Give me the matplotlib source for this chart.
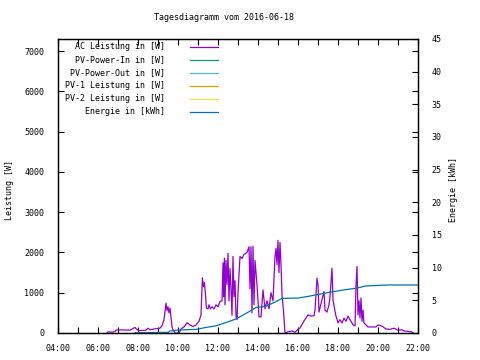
import matplotlib
matplotlib.use("Agg")
import matplotlib.pyplot as plt
import numpy as np

# AC Leistung [W] over time of day (hours)
ac_t = [6.45, 6.5, 6.7, 6.85, 6.9, 7.3, 7.6, 7.75, 7.85, 7.95, 8.1, 8.4, 8.5, 8.6,
        8.8, 9.0, 9.1, 9.2, 9.3, 9.4, 9.45, 9.5, 9.55, 9.6, 9.65, 9.7, 9.75, 9.85,
        10.05, 10.15, 10.3, 10.45, 10.6, 10.75, 10.9, 11.05, 11.15, 11.22, 11.27,
        11.32, 11.37, 11.42, 11.5, 11.55, 11.62, 11.7, 11.8, 11.9, 12.0, 12.1, 12.2,
        12.25, 12.28, 12.32, 12.35, 12.4, 12.45, 12.5, 12.55, 12.6, 12.65, 12.7,
        12.75, 12.8, 12.85, 12.9, 12.95, 13.0, 13.1, 13.2, 13.3, 13.45, 13.55, 13.6,
        13.65, 13.7, 13.75, 13.8, 13.85, 13.95, 14.05, 14.15, 14.25, 14.35, 14.45,
        14.55, 14.65, 14.75, 14.85, 14.9, 14.95, 15.0, 15.05, 15.1, 15.15, 15.2,
        15.28, 15.35, 15.5, 15.7, 15.85, 16.0, 16.1, 16.3, 16.5, 16.65, 16.8, 16.85,
        16.95, 17.0, 17.05, 17.1, 17.2, 17.3, 17.35, 17.45, 17.55, 17.6, 17.7, 17.75,
        17.85, 17.9, 18.0, 18.1, 18.2, 18.3, 18.4, 18.5, 18.6, 18.7, 18.75, 18.85,
        18.9, 18.95, 19.0, 19.05, 19.1, 19.15, 19.2, 19.25, 19.3, 19.4, 19.5, 19.9,
        20.0, 20.2, 20.4, 20.6, 20.8, 21.0, 21.2, 21.3, 21.5, 21.7, 21.75]
ac_w = [0, 30, 20, 40, 75, 75, 70, 110, 140, 80, 60, 70, 120, 80,
        100, 110, 120, 180, 330, 740, 560, 650, 500, 620, 400, 150, 80, 0,
        0, 100, 150, 255, 200, 160, 200, 290, 450, 1370, 1150,
        1250, 990, 620, 600, 700, 600, 650, 600, 700, 650, 780, 800,
        1740, 900, 1860, 700, 1800, 1200, 1980, 800, 1600, 1100, 440,
        1900, 900, 1300, 400, 340, 1000, 1900, 1850, 1950, 2000, 2140, 1100,
        2140, 500, 2150, 700, 1800, 1200, 400, 400, 1070, 600, 800,
        600, 1000, 800, 1900, 2100, 1700, 2300, 1500, 2250, 1700, 950,
        520, 0, 30, 50, 20, 90, 125, 300, 450, 420, 430, 570,
        1360, 1200, 520, 620, 820, 1030, 570, 520, 700, 900, 1610, 820,
        540, 420, 250, 330, 250, 370, 290, 420, 330, 250, 200, 180,
        1180, 1650, 450, 800, 370, 870, 290, 570, 250, 200, 150, 150,
        200, 170, 100, 90, 120, 70, 80, 50, 40, 25, 0]

# Energie [kWh]
en_t = [7.85, 9.5, 9.6, 10.0, 10.9, 11.4, 11.9, 12.4, 12.9, 13.4, 13.9, 14.4,
        14.9, 15.2, 16.0, 16.5, 17.0, 17.7, 18.3, 18.9, 19.4, 20.5, 22.0]
en_kwh = [0.05, 0.1, 0.3, 0.45, 0.55, 0.85, 1.1, 1.6, 2.15, 3.0, 3.9, 4.1,
          4.8, 5.3, 5.35, 5.6, 5.9, 6.3, 6.6, 6.85, 7.2, 7.35, 7.35]

labels = ["AC Leistung in [W]", "PV-Power-In in [W]", "PV-Power-Out in [W]",
          "PV-1 Leistung in [W]", "PV-2 Leistung in [W]", "Energie in [kWh]"]
colors = ["#9400d3", "#009e73", "#56b4e9", "#e69f00", "#f0e442", "#0072b2"]

plt.rcParams['font.family'] = ['DejaVu Sans Mono']
plt.rcParams['font.size'] = 6

fig = plt.figure(figsize=(4.8, 3.6), dpi=100)
ax = fig.add_axes([58/480, 27/360, 360/480, 294/360])
ax2 = ax.twinx()

ax.plot(ac_t, ac_w, color=colors[0], lw=0.9)
ax2.plot(en_t, en_kwh, color=colors[5], lw=0.9)

ax.set_xlim(4, 22)
ax.set_ylim(0, 7300)
ax2.set_ylim(0, 45)

ax.set_xticks(np.arange(4, 23, 2))
ax.set_xticks(np.arange(4, 23, 1), minor=True)
ax.set_xticklabels(["%02d:00" % h for h in range(4, 23, 2)])
ax.set_yticks(np.arange(0, 7001, 1000))
ax2.set_yticks(np.arange(0, 46, 5))

ax.tick_params(which='both', direction='in', length=4, width=0.8,
               top=True, right=True, pad=10)
ax.tick_params(axis='x', pad=8)
ax2.tick_params(direction='in', length=4, width=0.8, pad=10)
for a in (ax, ax2):
    for s in a.spines.values():
        s.set_linewidth(0.9)

# axis titles placed like gnuplot does
fig.text(10/480, 1 - 190/360, "Leistung [W]", rotation=90, ha='center', va='center')
fig.text(453/480, 1 - 190/360, "Energie [kWh]", rotation=90, ha='center', va='center')
fig.text(224/480, 1 - 18/360, "Tagesdiagramm vom 2016-06-18", ha='center', va='center')

# gnuplot-style key: right-aligned text followed by sample line
for i, (lab, col) in enumerate(zip(labels, colors)):
    y = 0.973 - i * 0.0442
    ax.text(0.297, y, lab, ha='right', va='center', transform=ax.transAxes)
    ax.plot([0.367, 0.444], [y, y], color=col, lw=0.9, transform=ax.transAxes)

fig.savefig("out.png", dpi=100)
